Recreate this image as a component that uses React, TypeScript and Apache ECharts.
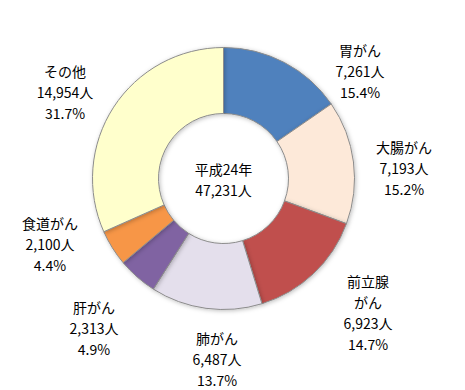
import React, { useEffect, useRef } from "react";
import * as echarts from "echarts";

const categories = ["胃がん", "大腸がん", "前立腺\nがん", "肺がん", "肝がん", "食道がん", "その他"];
const values = [7261, 7193, 6923, 6487, 2313, 2100, 14954];
const colors = ["#4F81BD", "#FDE9D9", "#C0504D", "#E4DFEC", "#8064A2", "#F79646", "#FFFFCC"];
const labelPos: [number, number][] = [
  [360, 71],
  [404, 168],
  [368, 312],
  [217, 359],
  [94, 328],
  [50, 244],
  [65, 92],
];
const centerTitle = "平成24年";

export default function App() {
  const ref = useRef<HTMLDivElement>(null);
  useEffect(() => {
    document.body.style.margin = "0";
    if (!ref.current) return;
    const chart = echarts.init(ref.current, undefined, { renderer: "svg" });
    const total = values.reduce((a, b) => a + b, 0);
    const font = '"Noto Sans CJK JP", "Noto Sans", sans-serif';
    chart.setOption({
      animation: false,
      backgroundColor: "#ffffff",
      series: [
        {
          type: "pie",
          center: [223.5, 178.5],
          radius: [65, 131],
          startAngle: 90,
          clockwise: true,
          avoidLabelOverlap: false,
          itemStyle: {
            borderColor: "#8c8c8c",
            borderWidth: 1,
            shadowBlur: 4,
            shadowOffsetX: 1,
            shadowOffsetY: 1,
            shadowColor: "rgba(0,0,0,0.25)",
          },
          label: {
            show: true,
            position: "outside",
            color: "#000",
            fontFamily: font,
            fontSize: 14,
            lineHeight: 21,
            align: "center",
            formatter: (p: any) =>
              `${p.name}\n${p.value.toLocaleString("en-US")}人\n${((p.value / total) * 100).toFixed(1)}%`,
          },
          labelLine: { show: false },
          labelLayout: (p: any) => ({
            x: labelPos[p.dataIndex][0],
            y: labelPos[p.dataIndex][1],
            align: "center",
            verticalAlign: "middle",
          }),
          emphasis: { disabled: true },
          data: categories.map((c, i) => ({
            name: c,
            value: values[i],
            itemStyle: { color: colors[i] },
          })),
        },
      ],
      graphic: [
        {
          type: "text",
          x: 223.5,
          y: 179,
          style: {
            text: `${centerTitle}\n${total.toLocaleString("en-US")}人`,
            align: "center",
            verticalAlign: "middle",
            fill: "#000",
            font: `14px ${font}`,
            lineHeight: 21,
          } as any,
        },
      ],
    });
    return () => chart.dispose();
  }, []);
  return <div ref={ref} style={{ width: 465, height: 390 }} />;
}
